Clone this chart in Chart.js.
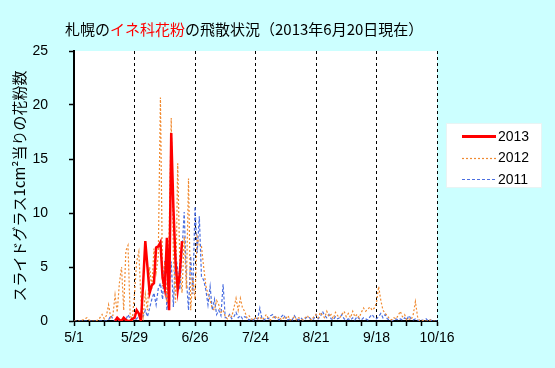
<!DOCTYPE html>
<html>
<head>
<meta charset="utf-8">
<script src="https://cdn.jsdelivr.net/npm/chart.js@4"></script>
<style>
  html, body { margin: 0; padding: 0; background: #ccffff; }
  #wrap { position: relative; width: 555px; height: 368px; }
  #title {
    position: absolute; left: 65px; top: 19px;
    font: 15px "Noto Sans CJK JP", sans-serif; line-height: 20px;
    color: #000; white-space: nowrap;
  }
  #title .hl { color: #ff0000; }
</style>
</head>
<body>
<div id="wrap">
  <div id="title">札幌の<span class="hl">イネ科花粉</span>の飛散状況（2013年6月20日現在）</div>
  <canvas id="chart_kafun" width="555" height="368"></canvas>
</div>
<script>
// days counted from 5/1 (day 0) to 10/16 (day 168)
const tickLabels = ['5/1', '5/29', '6/26', '7/24', '8/21', '9/18', '10/16'];
const seriesNames = ['2013', '2012', '2011'];

// 2013 starts on day 19, data up to 6/20
const start2013 = 19;
const kafun2013 = [
  0, 0.3, 0.1, 0, 0.3, 0.1, 0, 0, 0.2, 0.3,
  1.0, 0.7, 0, 3.5, 7.4, 5.0, 2.6, 3.3, 3.5, 6.8,
  6.9, 7.3, 4.0, 3.0, 7.7, 1.0, 17.4, 10.5, 5.5, 2.9,
  4.5, 7.4
];

const kafun2012 = [
  0, 0, 0, 0, 0.1, 0.2, 0.3, 0.1, 0, 0,
  0, 0.1, 0.3, 0.6, 0.2, 0.5, 1.5, 0.3, 0.5, 2.4,
  0.8, 3.5, 5.0, 1.0, 6.5, 7.0, 0.5, 0.1, 2.5, 5.5,
  6.4, 2.0, 0.4, 2.5, 1.0, 5.0, 3.0, 6.7, 4.5, 6.0,
  20.7, 3.2, 5.5, 1.7, 8.0, 18.8, 6.0, 1.7, 14.6, 5.0,
  2.6, 7.8, 3.0, 13.2, 1.0, 4.0, 2.0, 7.8, 7.0, 6.9,
  5.0, 3.3, 2.5, 1.9, 1.2, 1.0, 1.9, 1.5, 0.8, 1.0,
  0.4, 0.2, 0.6, 0.4, 1.2, 2.1, 1.0, 2.1, 1.2, 0.9,
  0.3, 0.5, 0.2, 0.1, 0.3, 0.2, 0.4, 0.1, 0.3, 0.6,
  0.2, 0.1, 0.3, 0.5, 0.2, 0.4, 0.1, 0.3, 0.2, 0.5,
  0.1, 0.2, 0.4, 0.1, 0.3, 0.2, 0.1, 0.3, 0.5, 0.2,
  0.1, 0.4, 0.6, 0.3, 0.8, 0.5, 0.3, 0.9, 0.4, 0.6,
  0.2, 0.8, 0.5, 0.3, 0.6, 0.9, 0.4, 0.7, 0.3, 0.9,
  0.4, 0.6, 0.3, 0.8, 1.2, 0.9, 1.1, 1.3, 1.0, 1.2,
  1.7, 3.2, 1.9, 1.0, 0.7, 0.5, 0.2, 0.1, 0.3, 0.2,
  0.5, 0.9, 0.4, 0.6, 0.1, 0.2, 0.1, 0.6, 1.8, 0.4,
  0, 0, 0.1, 0, 0, 0.1, 0, 0, 0
];

const kafun2011 = [
  0, 0, 0, 0, 0, 0, 0, 0, 0, 0,
  0, 0, 0, 0, 0, 0, 0.1, 0.5, 0.2, 0,
  0.1, 0, 0.1, 0.2, 0.1, 0.6, 0.2, 0.1, 0.1, 0.2,
  0.5, 0.3, 0.4, 1.0, 0.4, 1.2, 2.0, 2.6, 1.5, 3.0,
  3.5, 2.0, 5.6, 1.0, 3.0, 5.5, 1.3, 6.3, 4.7, 2.9,
  6.5, 10.1, 4.0, 1.0, 6.0, 2.5, 10.6, 6.3, 9.7, 4.1,
  3.8, 2.9, 1.5, 3.2, 1.0, 2.0, 0.6, 1.0, 0.5, 3.4,
  0.3, 0.3, 0.6, 0.2, 0.4, 0.8, 0.3, 0.5, 0.2, 0.4,
  0.3, 0.1, 0.2, 0.1, 0.3, 0.2, 1.2, 0.2, 0.1, 0.3,
  0.2, 0.5, 0.6, 0.3, 0.2, 0.1, 0.4, 0.6, 0.2, 0.1,
  0.2, 0.1, 0.5, 0.2, 0.1, 0.3, 0.1, 0.2, 0.4, 0.3,
  0.1, 0.2, 0.6, 0.2, 0.4, 0.9, 0.5, 0.3, 0.6, 0.2,
  0.1, 0.4, 0.2, 0.3, 0.6, 0.2, 0.1, 0.2, 0.1, 0.3,
  0.1, 0.4, 0.2, 0.1, 0.3, 0.2, 0.1, 0.4, 0.6, 0.3,
  0.2, 0.4, 0.7, 0.3, 0.6, 0.2, 0.1, 0, 0.1, 0.2,
  0.1, 0.2, 0.1, 0.3, 0.1, 0.5, 0.2, 0.1, 0.2, 0.1,
  0, 0.1, 0, 0.2, 0, 0.1, 0, 0, 0
];

function toPoints(values, start) {
  return values.map((v, i) => ({ x: start + i, y: v }));
}

// white plot area
const plotBg = {
  id: 'plotBg',
  beforeDraw(chart) {
    const a = chart.chartArea;
    const ctx = chart.ctx;
    ctx.save();
    ctx.fillStyle = '#ffffff';
    ctx.fillRect(a.left, a.top, a.right - a.left, a.bottom - a.top);
    ctx.restore();
  }
};

// legend box on the right
const boxLegend = {
  id: 'boxLegend',
  afterDraw(chart) {
    const ctx = chart.ctx;
    const bx = 446, by = 123, bw = 96, bh = 65;
    ctx.save();
    ctx.fillStyle = '#ffffff';
    ctx.fillRect(bx, by, bw, bh);
    ctx.strokeStyle = '#e8f4f4';
    ctx.lineWidth = 1;
    ctx.strokeRect(bx + 0.5, by + 0.5, bw - 1, bh - 1);
    chart.data.datasets.forEach((ds, i) => {
      const y = by + 13 + i * 21.5;
      ctx.beginPath();
      ctx.strokeStyle = ds.borderColor;
      ctx.lineWidth = i === 0 ? 3 : ds.borderWidth;
      ctx.setLineDash(ds.borderDash || []);
      ctx.moveTo(462, Math.round(y) + 0.5);
      ctx.lineTo(496, Math.round(y) + 0.5);
      ctx.stroke();
      ctx.setLineDash([]);
      ctx.fillStyle = '#000';
      ctx.font = '14px "Liberation Sans", Arial, sans-serif';
      ctx.textBaseline = 'middle';
      ctx.fillText(ds.label, 498, y + 1);
    });
    ctx.restore();
  }
};

const ctx = document.getElementById('chart_kafun').getContext('2d');
const myChart = new Chart(ctx, {
  type: 'line',
  data: {
    datasets: [{
      label: seriesNames[0],
      data: toPoints(kafun2013, start2013),
      borderColor: '#ff0000',
      borderWidth: 2.5,
      borderDash: []
    }, {
      label: seriesNames[1],
      data: toPoints(kafun2012, 0),
      borderColor: '#f08a30',
      borderWidth: 1.2,
      borderDash: [2, 2]
    }, {
      label: seriesNames[2],
      data: toPoints(kafun2011, 0),
      borderColor: '#4a6ee0',
      borderWidth: 1.2,
      borderDash: [3, 2]
    }]
  },
  options: {
    responsive: false,
    animation: false,
    devicePixelRatio: 1,
    elements: {
      point: { radius: 0 },
      line: { tension: 0 }
    },
    layout: { padding: { left: 6, right: 118, top: 51, bottom: 0 } },
    plugins: {
      legend: { display: false },
      title: { display: false },
      tooltip: { enabled: false }
    },
    scales: {
      x: {
        type: 'linear',
        min: 0,
        max: 168,
        afterFit(scale) { scale.height = 47; },
        ticks: {
          stepSize: 7,
          autoSkip: false,
          maxRotation: 0,
          padding: 4,
          color: '#000',
          font: { family: '"Liberation Sans", Arial, sans-serif', size: 14 },
          callback: (v) => (v % 28 === 0 ? tickLabels[v / 28] : '')
        },
        grid: {
          drawOnChartArea: true,
          color: (c) => (c.tick && c.tick.value % 28 === 0 && c.tick.value > 0 ? '#000' : 'rgba(0,0,0,0)'),
          lineWidth: 1,
          tickColor: '#000',
          tickLength: 5,
          tickWidth: 1.5
        },
        border: { display: true, color: '#000', width: 2, dash: [3, 3] }
      },
      y: {
        min: 0,
        max: 25,
        afterFit(scale) { scale.width = 68; },
        ticks: {
          stepSize: 5,
          padding: 21,
          color: '#000',
          font: { family: '"Liberation Sans", Arial, sans-serif', size: 14 }
        },
        grid: {
          drawOnChartArea: false,
          tickColor: '#000',
          tickLength: 5,
          tickWidth: 1.5
        },
        border: { display: true, color: '#000', width: 2 },
        title: {
          display: true,
          text: 'スライドグラス1cm²当りの花粉数',
          color: '#000',
          font: { family: '"Noto Sans CJK JP", sans-serif', size: 15 },
          padding: { top: 4, bottom: 4 }
        }
      }
    }
  },
  plugins: [plotBg, boxLegend]
});
</script>
</body>
</html>
